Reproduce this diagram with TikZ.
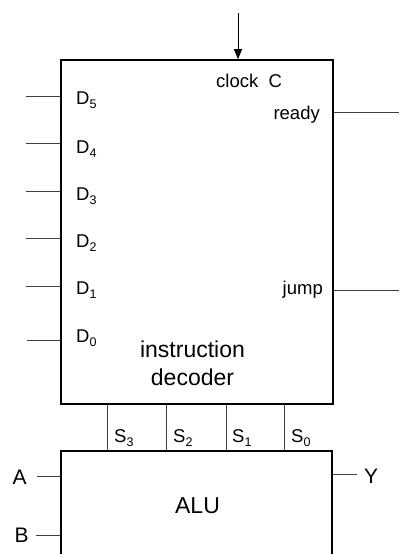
\documentclass[tikz,border=0pt]{standalone}
\usepackage{fontspec}
\setmainfont{Liberation Sans}
\usetikzlibrary{arrows.meta}
\newcommand{\lowidx}[1]{\raisebox{-0.42ex}{\fontsize{12.5}{13}\selectfont #1}}
\tikzset{
  blockbox/.style={draw=black, line width=1.7pt, rectangle, inner sep=0pt},
  wire/.style={draw=black!75, line width=0.9pt},
  pinlabel/.style={inner sep=0pt, font=\fontsize{18.5}{22}\selectfont},
  biglabel/.style={inner sep=0pt, align=center, font=\fontsize{23}{28}\selectfont},
  portlabel/.style={inner sep=0pt, font=\fontsize{21}{25}\selectfont},
}
\begin{document}
\begin{tikzpicture}[x=1pt,y=-1pt]
\useasboundingbox (0,0) rectangle (399,554);
\clip (0,0) rectangle (399,554);
% blocks
\node[blockbox, minimum width=272pt, minimum height=344pt] (dec) at (197,232) {};
\node[blockbox, minimum width=271pt, minimum height=150pt] (alu) at (196.5,526) {};
% decoder labels
\node[pinlabel, anchor=base west] (d5) at (76,104) {D\lowidx{5}};
\node[pinlabel, anchor=base west] (d4) at (76,153) {D\lowidx{4}};
\node[pinlabel, anchor=base west] (d3) at (76,200) {D\lowidx{3}};
\node[pinlabel, anchor=base west] (d2) at (76,247) {D\lowidx{2}};
\node[pinlabel, anchor=base west] (d1) at (76,294) {D\lowidx{1}};
\node[pinlabel, anchor=base west] (d0) at (76,342) {D\lowidx{0}};
\node[pinlabel, anchor=base west] (clk) at (216,87) {clock\hspace{0.55em}C};
\node[pinlabel, anchor=base east] (ready) at (320,119) {ready};
\node[pinlabel, anchor=base east] (jump) at (323,294) {jump};
\node[biglabel, anchor=base] (name1) at (192.5,357) {instruction};
\node[biglabel, anchor=base] (name2) at (192.5,385) {decoder};
% ALU labels
\node[biglabel, anchor=base] (aluname) at (197.5,513) {ALU};
\node[pinlabel, anchor=base west] (s3) at (114,442) {S\lowidx{3}};
\node[pinlabel, anchor=base west] (s2) at (173,442) {S\lowidx{2}};
\node[pinlabel, anchor=base west] (s1) at (232,442) {S\lowidx{1}};
\node[pinlabel, anchor=base west] (s0) at (291,442) {S\lowidx{0}};
\node[portlabel, anchor=base west] (a) at (12.5,484) {A};
\node[portlabel, anchor=base west] (b) at (14.5,542) {B};
\node[portlabel, anchor=base west] (y) at (364,483) {Y};
% free ends
\coordinate (ck) at (238,13);
\coordinate (i5) at (26,96);
\coordinate (i4) at (26,143);
\coordinate (i3) at (26,191);
\coordinate (i2) at (26,238);
\coordinate (i1) at (26,286);
\coordinate (i0) at (27,340);
\coordinate (or) at (399,112);
\coordinate (oj) at (399,290);
\coordinate (sx3) at (107.5,0);
\coordinate (sx2) at (166.5,0);
\coordinate (sx1) at (226,0);
\coordinate (sx0) at (284.5,0);
\coordinate (ae) at (37,476);
\coordinate (be) at (36,535);
\coordinate (ye) at (357,474);
% wires
\draw[wire, draw=black, -{Triangle[length=10pt,width=8pt]}] (ck) -- (ck |- dec.north);
\foreach \c in {i5,i4,i3,i2,i1,i0} \draw[wire] (\c) -- (\c -| dec.west);
\draw[wire] (dec.east |- or) -- (or);
\draw[wire] (dec.east |- oj) -- (oj);
\foreach \c in {sx3,sx2,sx1,sx0} \draw[wire] (\c |- dec.south) -- (\c |- alu.north);
\draw[wire] (ae) -- (ae -| alu.west);
\draw[wire] (be) -- (be -| alu.west);
\draw[wire] (ye) -- (ye -| alu.east);
\end{tikzpicture}
\end{document}
